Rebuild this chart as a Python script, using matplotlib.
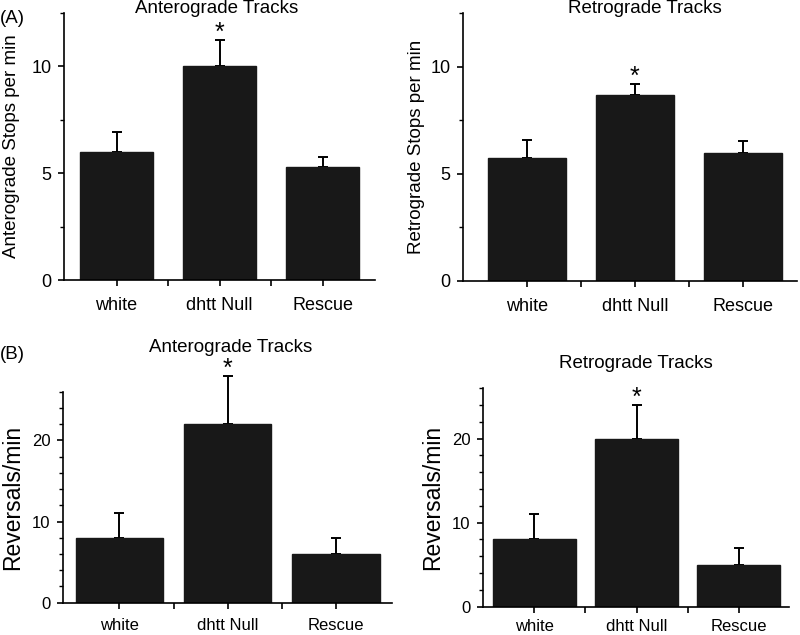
import matplotlib
matplotlib.use('Agg')
import matplotlib.pyplot as plt
from matplotlib.ticker import MultipleLocator, FixedLocator

plt.rcParams['font.family'] = ['Liberation Sans', 'DejaVu Sans']

groups = ['white', 'dhtt Null', 'Rescue']

# (A) stops per min
ant_stops = [6.0, 10.0, 5.27]
ant_stops_err = [0.9, 1.23, 0.49]
ret_stops = [5.74, 8.69, 5.98]
ret_stops_err = [0.83, 0.51, 0.56]

# (B) reversals per min
ant_rev = [8, 22, 6]
ant_rev_err = [3, 6, 2]
ret_rev = [8, 20, 5]
ret_rev_err = [3, 4, 2]

signif = [False, True, False]

BAR = '#181818'


def bar_panel(ax, vals, errs, width, ymax, major, minor, xlim, tick_fs, xlab_fs, xpad=8):
    x = list(range(len(groups)))
    ax.bar(x, vals, width=width, color=BAR, edgecolor=BAR, zorder=2)
    ax.errorbar(x, vals, yerr=[[0] * len(errs), errs], fmt='none', ecolor='black',
                elinewidth=1.4, capsize=3.5, capthick=1.4, zorder=1, clip_on=False)
    for xi, v, e, s in zip(x, vals, errs, signif):
        if s:
            ax.annotate('*', (xi, v + e), xytext=(0, 0), textcoords='offset points',
                        ha='center', va='baseline', fontsize=18,
                        annotation_clip=False)
    ax.set_xlim(*xlim)
    ax.set_ylim(0, ymax)
    ax.yaxis.set_major_locator(MultipleLocator(major))
    ax.yaxis.set_minor_locator(MultipleLocator(minor))
    ax.set_xticks(x)
    ax.set_xticklabels(groups, fontsize=xlab_fs)
    ax.xaxis.set_minor_locator(FixedLocator([0.5, 1.5]))
    for side in ['top', 'right']:
        ax.spines[side].set_visible(False)
    for side in ['left', 'bottom']:
        ax.spines[side].set_linewidth(1.2)
    ax.tick_params(axis='both', which='major', direction='out', length=4, width=1.2,
                   labelsize=tick_fs, pad=5)
    ax.tick_params(axis='both', which='minor', direction='out', length=3, width=1.0)
    ax.tick_params(axis='x', which='minor', length=4, width=1.2)
    ax.tick_params(axis='x', which='major', pad=xpad)


fig = plt.figure(figsize=(8, 6.35), dpi=100)

ax1 = fig.add_axes([0.080, 0.559, 0.389, 0.421])
bar_panel(ax1, ant_stops, ant_stops_err, 0.71, 12.5, 5, 2.5, (-0.51, 2.51), 13, 14)
ax1.set_ylabel('Anterograde Stops per min', fontsize=13.5, labelpad=8)
ax1.text(0.49, 1.016, 'Anterograde Tracks', transform=ax1.transAxes,
         fontsize=13.5, ha='center', va='center')
fig.text(0.0, 0.985, '(A)', fontsize=13.5, ha='left', va='top')

ax2 = fig.add_axes([0.579, 0.5575, 0.417, 0.422])
bar_panel(ax2, ret_stops, ret_stops_err, 0.72, 12.5, 5, 2.5, (-0.59, 2.5), 13, 14)
ax2.set_ylabel('Retrograde Stops per min', fontsize=13.5, labelpad=4)
ax2.text(0.545, 1.016, 'Retrograde Tracks', transform=ax2.transAxes,
         fontsize=13.5, ha='center', va='center')

ax3 = fig.add_axes([0.079, 0.051, 0.411, 0.332])
bar_panel(ax3, ant_rev, ant_rev_err, 0.81, 26, 10, 2, (-0.52, 2.52), 12, 13.5, xpad=7)
ax3.set_ylabel('Reversals/min', fontsize=16.5, labelpad=6)
ax3.text(0.51, 1.21, 'Anterograde Tracks', transform=ax3.transAxes,
         fontsize=13.5, ha='center', va='center')
fig.text(0.0, 0.455, '(B)', fontsize=13.5, ha='left', va='top')

ax4 = fig.add_axes([0.604, 0.0446, 0.382, 0.344])
bar_panel(ax4, ret_rev, ret_rev_err, 0.81, 26, 10, 2, (-0.5, 2.49), 12, 13.5, xpad=5)
ax4.set_ylabel('Reversals/min', fontsize=16.5, labelpad=6)
ax4.text(0.5, 1.115, 'Retrograde Tracks', transform=ax4.transAxes,
         fontsize=13.5, ha='center', va='center')

fig.savefig('out.png', dpi=100)
plt.close(fig)
